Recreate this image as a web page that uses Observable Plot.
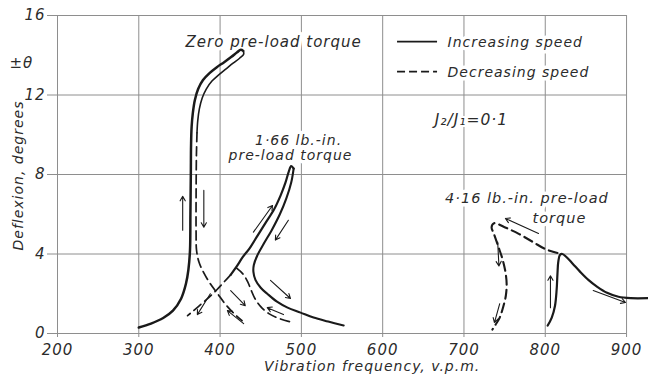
<!DOCTYPE html>
<html>
<head>
<meta charset="utf-8">
<script src="https://cdn.jsdelivr.net/npm/d3@7"></script>
<script src="https://cdn.jsdelivr.net/npm/@observablehq/plot@0.6"></script>
<style>
  html, body { margin: 0; padding: 0; background: #fff; }
  #chart svg { display: block; }
</style>
</head>
<body>
<div id="chart"></div>
<script>
// Axis ticks
const xTicks = [200, 300, 400, 500, 600, 700, 800, 900];
const yTicks = [0, 4, 8, 12, 16];

// Zero pre-load torque: [frequency v.p.m., deflexion deg]
const zeroIncreasing = [
  [300, 0.3], [315, 0.5], [330, 0.78], [342, 1.15], [352, 1.75], [358, 2.5],
  [361, 3.2], [363, 4.2], [363.5, 6], [364, 8], [364.3, 9.5], [365, 10.4],
  [366.5, 11.1], [369, 11.75], [373, 12.3], [379, 12.75], [387, 13.1], [396, 13.4],
  [405, 13.65], [414, 13.92], [421, 14.15], [425.5, 14.28], [428.5, 14.22]
];
const zeroReturnUpper = [
  [428.5, 14.22], [429, 14.05], [424, 13.85], [416, 13.6], [407, 13.3],
  [398, 13.0], [390, 12.7], [383, 12.3], [378, 11.85], [374.5, 11.3], [372.5, 10.7], [371.6, 10.1]
];
const zeroDecreasing = [
  [371.6, 10.1], [370.9, 9], [370.5, 7], [370.5, 5], [371, 4.2], [374, 3.6],
  [380, 3.05], [388, 2.5], [397, 2.0], [406, 1.5], [416, 1.05], [427, 0.65]
];

// 1.66 lb.-in. pre-load torque
const midIncreasing = [
  [413, 2.95], [420, 3.35], [428, 3.85], [436.5, 4.3], [446.5, 4.95], [456.5, 5.6],
  [466.5, 6.25], [474.5, 6.95], [480.5, 7.6], [484.5, 8.15], [487.5, 8.42], [490.5, 8.3]
];
const midUpperReturn = [
  [490.5, 8.3], [487.5, 7.6], [481.5, 6.8], [473.5, 6.0], [463.5, 5.2], [453.5, 4.5],
  [445.5, 3.9], [441.5, 3.45], [441, 3.1], [443.5, 2.7], [450, 2.3], [458, 2.0],
  [470, 1.6], [483, 1.3], [499, 1.05], [515, 0.8], [533, 0.6], [552, 0.4]
];
const midLowerLeft = [
  [413, 2.95], [405, 2.6], [396, 2.2], [386, 1.8], [376, 1.45], [366, 1.1], [360, 0.9]
];
const midDecreasing = [
  [420, 3.3], [428, 3.0], [434, 2.6], [438, 2.2], [443, 1.75], [450, 1.35],
  [460, 1.0], [473, 0.75], [490, 0.55]
];

// 4.16 lb.-in. pre-load torque
const highIncreasing = [
  [803, 0.4], [808, 0.8], [812, 1.4], [814, 2.2], [815, 3.0], [816, 3.6], [818, 3.95],
  [821, 4.0], [826, 3.85], [834, 3.5], [843, 3.1], [853, 2.7], [864, 2.35],
  [876, 2.05], [890, 1.85], [905, 1.78], [927, 1.78]
];
const highDecreasing = [
  [815, 4.05], [800, 4.25], [785, 4.6], [768, 5.0], [750, 5.35], [737, 5.55],
  [734, 5.35], [737, 5.0], [742, 4.4], [747, 3.8], [751, 3.1], [752.5, 2.5],
  [751.5, 1.9], [748, 1.3], [744, 0.8], [739, 0.45], [735, 0.2]
];

// Direction arrows: [x1, y1, x2, y2]
const arrows = [
  [354, 5.2, 354, 6.9],
  [380, 7.2, 380, 5.35],
  [388, 2.0, 372, 0.95],
  [441, 5.1, 464.5, 6.44],
  [484, 5.7, 468, 4.7],
  [462, 2.67, 486.6, 1.76],
  [478, 0.95, 458, 1.3],
  [413, 2.16, 431, 1.4],
  [429, 0.5, 409, 1.15],
  [791.7, 5.03, 751, 5.79],
  [806.4, 1.3, 806.4, 2.9],
  [859, 2.16, 898.7, 1.56],
  [741.5, 4.6, 743, 3.4],
  [744, 1.5, 737.5, 0.55]
];

// Text
const xLabel = "Vibration frequency, v.p.m.";
const yLabel = "Deflexion, degrees";
const yUnit = "\u00b1\u03b8";
const legendLabels = ["Increasing speed", "Decreasing speed"];
const zeroNote = "Zero pre-load torque";
const midNote = ["1\u00b766 lb.-in.", "pre-load torque"];
const highNote = ["4\u00b716 lb.-in. pre-load", "torque"];
const ratioNote = "J\u2082/J\u2081=0\u00b71";

const ink = "#1a1a1a";
const textInk = "#2b2b2b";
const grid = "#8e8e8e";
const dash = "9,5";

const pt = {x: d => d[0], y: d => d[1], curve: "catmull-rom", stroke: ink};
const note = (text, x, y, opts = {}) =>
  Plot.text([text], {x, y, fill: textInk, stroke: "white", strokeWidth: 7, fontSize: 14, textAnchor: "start", ...opts});

const chart = Plot.plot({
  width: 648,
  height: 383,
  marginLeft: 57,
  marginRight: 0,
  marginTop: 15,
  marginBottom: 50,
  x: {domain: [200, 927]},
  y: {domain: [0, 16]},
  style: {fontFamily: "DejaVu Sans", fontStyle: "italic", background: "#fff", letterSpacing: "1px"},
  marks: [
    Plot.ruleX(xTicks, {y1: 0, y2: 16, stroke: grid, strokeWidth: 1}),
    Plot.ruleY(yTicks, {x1: 200, x2: 900, stroke: grid, strokeWidth: 1}),
    Plot.axisX(xTicks, {tickSize: 4, tickPadding: 7, fontSize: 15, stroke: grid, fill: textInk, label: null}),
    Plot.axisY(yTicks, {tickSize: 10, tickPadding: 2, fontSize: 15, stroke: grid, fill: textInk, label: null}),
    Plot.text([xLabel], {x: 587, frameAnchor: "bottom", dy: 37, fontSize: 14, fill: textInk}),
    Plot.text([yLabel], {y: 7.95, frameAnchor: "left", textAnchor: "middle", dx: -39, rotate: -90, fontSize: 14, fill: textInk}),
    Plot.text([yUnit], {y: 13.6, frameAnchor: "left", textAnchor: "start", dx: -48, fontSize: 15, fill: textInk}),

    // annotations
    note(zeroNote, 357.5, 14.64, {fontSize: 15, letterSpacing: "1.3px"}),
    note(midNote[0], 496.5, 9.71, {textAnchor: "middle"}),
    note(midNote[1], 486.6, 8.96, {textAnchor: "middle"}),
    note(highNote[0], 777.5, 6.79, {textAnchor: "middle", fontSize: 14.5}),
    note(highNote[1], 817.5, 5.79, {textAnchor: "middle", fontSize: 14.5}),
    note(ratioNote, 664, 10.72, {strokeWidth: 4, fontSize: 15.5}),

    // legend
    note(legendLabels[0], 679.8, 14.64, {fontSize: 14}),
    note(legendLabels[1], 679.8, 13.13, {fontSize: 14}),
    Plot.ruleY([14.69], {x1: 618.3, x2: 667.5, stroke: ink, strokeWidth: 1.8}),
    Plot.ruleY([13.18], {x1: 618.3, x2: 667.5, stroke: ink, strokeWidth: 1.8, strokeDasharray: "8,4"}),

    // curves
    Plot.line(zeroIncreasing, {...pt, strokeWidth: 2.5}),
    Plot.line(zeroReturnUpper, {...pt, strokeWidth: 1.6}),
    Plot.line(zeroDecreasing, {...pt, strokeWidth: 1.7, strokeDasharray: dash}),
    Plot.line(midIncreasing, {...pt, strokeWidth: 2.2}),
    Plot.line(midUpperReturn, {...pt, strokeWidth: 2.1}),
    Plot.line(midLowerLeft, {...pt, strokeWidth: 1.7, strokeDasharray: dash}),
    Plot.line(midDecreasing, {...pt, strokeWidth: 1.7, strokeDasharray: dash}),
    Plot.line(highIncreasing, {...pt, strokeWidth: 2.2}),
    Plot.line(highDecreasing, {...pt, strokeWidth: 2.1, strokeDasharray: dash}),

    Plot.arrow(arrows, {
      x1: d => d[0], y1: d => d[1], x2: d => d[2], y2: d => d[3],
      stroke: ink, strokeWidth: 1.1, headLength: 7, inset: 0
    })
  ]
});

document.getElementById("chart").append(chart);
</script>
</body>
</html>
